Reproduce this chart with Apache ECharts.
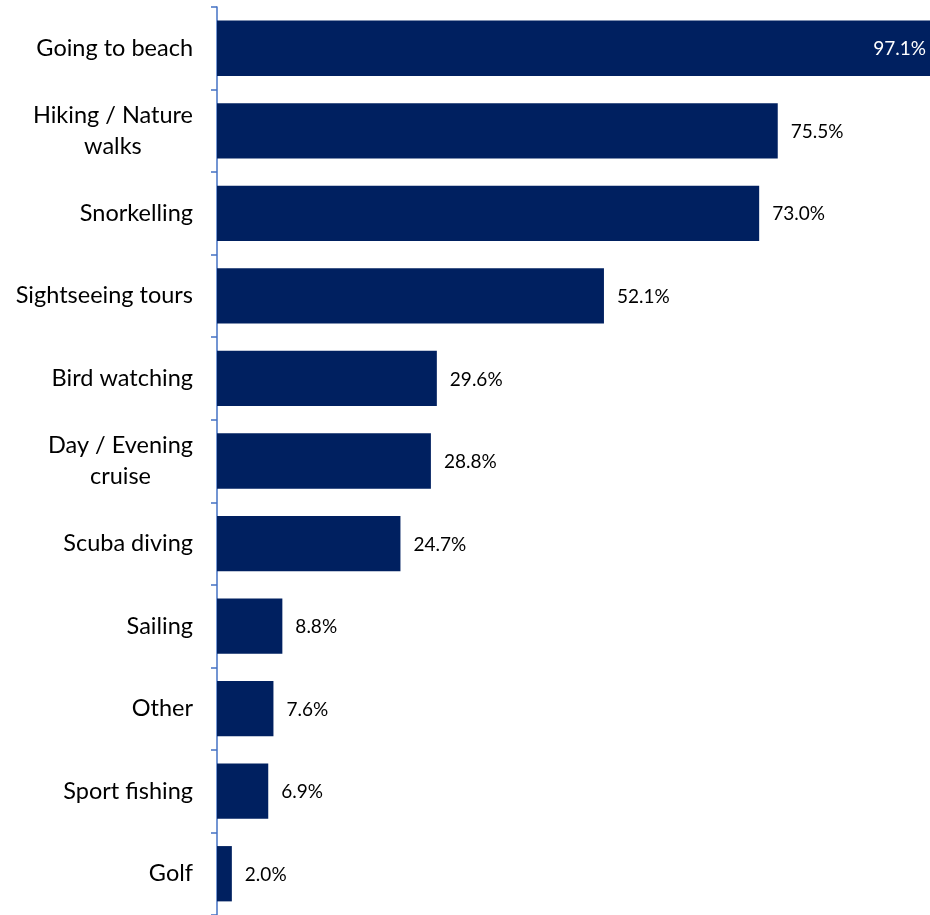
<!DOCTYPE html>
<html>
<head>
<meta charset="utf-8">
<script src="https://cdn.jsdelivr.net/npm/echarts@6/dist/echarts.min.js"></script>
<style>
  html, body { margin: 0; padding: 0; background: #ffffff; }
  #chart { width: 930px; height: 915px; }
</style>
</head>
<body>
<div id="chart"></div>
<script>
// Activities, share of respondents (%)
const categories = [
  'Going to beach',
  'Hiking / Nature\nwalks',
  'Snorkelling',
  'Sightseeing tours',
  'Bird watching',
  'Day / Evening\ncruise',
  'Scuba diving',
  'Sailing',
  'Other',
  'Sport fishing',
  'Golf'
];
const shares = [97.1, 75.5, 73.0, 52.1, 29.6, 28.8, 24.7, 8.8, 7.6, 6.9, 2.0];

const barColor = '#002060';
const fontFamily = 'Lato, "Open Sans", sans-serif';

const chart = echarts.init(document.getElementById('chart'));

chart.setOption({
  animation: false,
  grid: { left: 217, right: 0, top: 7, bottom: 0, containLabel: false },
  xAxis: {
    type: 'value',
    min: 0,
    max: 96,
    show: false
  },
  yAxis: {
    type: 'category',
    data: categories,
    inverse: true,
    axisLine: { show: true, lineStyle: { color: '#4472C4', width: 1.5 } },
    axisTick: { show: true, length: 6, lineStyle: { color: '#4472C4', width: 1.5 } },
    axisLabel: {
      margin: 24,
      color: '#000000',
      fontFamily: fontFamily,
      fontSize: 23.5,
      lineHeight: 31,
      // Each line is centred within the label block, block stays right-aligned
      formatter: function (v) {
        return v.split('\n').map(function (s) { return '{c|' + s + '}'; }).join('\n');
      },
      rich: {
        c: { align: 'center', fontFamily: fontFamily, fontSize: 23.5, lineHeight: 31, color: '#000000' }
      }
    },
    splitLine: { show: false }
  },
  series: [{
    type: 'bar',
    data: shares.map(function (v, i) {
      const item = { value: v };
      if (i === 0) {
        item.label = { position: 'insideRight', color: '#ffffff', distance: 4 };
      }
      return item;
    }),
    barCategoryGap: '33%',
    clip: true,
    itemStyle: { color: barColor },
    label: {
      show: true,
      position: 'right',
      distance: 13,
      color: '#000000',
      fontFamily: fontFamily,
      fontSize: 19,
      offset: [0, 1],
      formatter: function (p) { return p.value.toFixed(1) + '%'; }
    }
  }]
});
</script>
</body>
</html>
